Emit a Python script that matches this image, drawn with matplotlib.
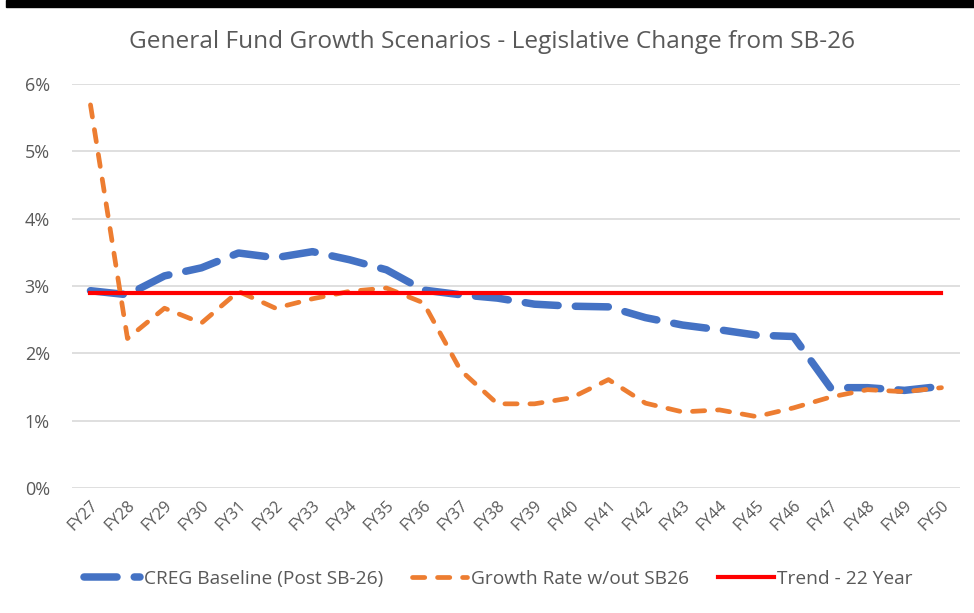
import numpy as np
import matplotlib.pyplot as plt
from matplotlib.ticker import PercentFormatter
from matplotlib.patches import Rectangle

years = ["FY%d" % y for y in range(27, 51)]

# growth rates in percent
creg_baseline = [2.93, 2.87, 3.15, 3.27, 3.49, 3.42, 3.51, 3.39, 3.24, 2.94,
                 2.87, 2.82, 2.73, 2.70, 2.69, 2.53, 2.42, 2.35, 2.27, 2.25,
                 1.49, 1.49, 1.45, 1.51]
no_sb26 = [5.69, 2.22, 2.67, 2.45, 2.92, 2.67, 2.81, 2.92, 2.97, 2.75,
           1.75, 1.25, 1.25, 1.34, 1.61, 1.26, 1.13, 1.16, 1.06, 1.19,
           1.35, 1.46, 1.43, 1.49]
trend_22yr = [2.90] * len(years)

GRAY = "#595959"
plt.rcParams["font.family"] = ["Open Sans", "DejaVu Sans"]

fig = plt.figure(figsize=(9.74, 6.13), dpi=100)
ax = fig.add_axes([0.0739, 0.2039, 0.9117, 0.6591])

x = np.arange(len(years))
ax.plot(x, creg_baseline, color="#4472C4", lw=5.4, dashes=(4.4, 2.3),
        dash_capstyle="round", solid_capstyle="round",
        label="CREG Baseline (Post SB-26)", zorder=3)
ax.plot(x, no_sb26, color="#ED7D31", lw=3.4, dashes=(2.6, 2.7),
        dash_capstyle="round", label="Growth Rate w/out SB26", zorder=4)
ax.plot(x, trend_22yr, color="#FF0000", lw=3.0, label="Trend - 22 Year",
        zorder=5)

ax.set_xlim(-0.5, len(years) - 0.5)
ax.set_ylim(0, 6)
ax.set_yticks(np.arange(0, 7, 1))
ax.yaxis.set_major_formatter(PercentFormatter(decimals=0))
ax.set_xticks(x)
ax.set_xticklabels(years, rotation=45, ha="right", va="top",
                   rotation_mode="anchor")
ax.tick_params(length=0, colors=GRAY)
ax.tick_params(axis="y", pad=16, labelsize=13)
ax.tick_params(axis="x", pad=7, labelsize=11.5)
ax.grid(axis="y", color="#D9D9D9", lw=1.2)
ax.set_axisbelow(True)
for s in ax.spines.values():
    s.set_visible(False)

fig.text(0.505, 0.931, "General Fund Growth Scenarios - Legislative Change from SB-26",
         ha="center", va="center", fontsize=17.6, color=GRAY)

fig.legend(loc="center", bbox_to_anchor=(0.512, 0.056), ncol=3, frameon=False,
           fontsize=13.8, labelcolor=GRAY, handlelength=2.9, handletextpad=0.2,
           columnspacing=1.5)

# black bar along the top edge
fig.patches.append(Rectangle((0.006, 0.988), 1.0, 0.012, transform=fig.transFigure,
                             color="black", zorder=10))

fig.savefig("out.png", dpi=100)
